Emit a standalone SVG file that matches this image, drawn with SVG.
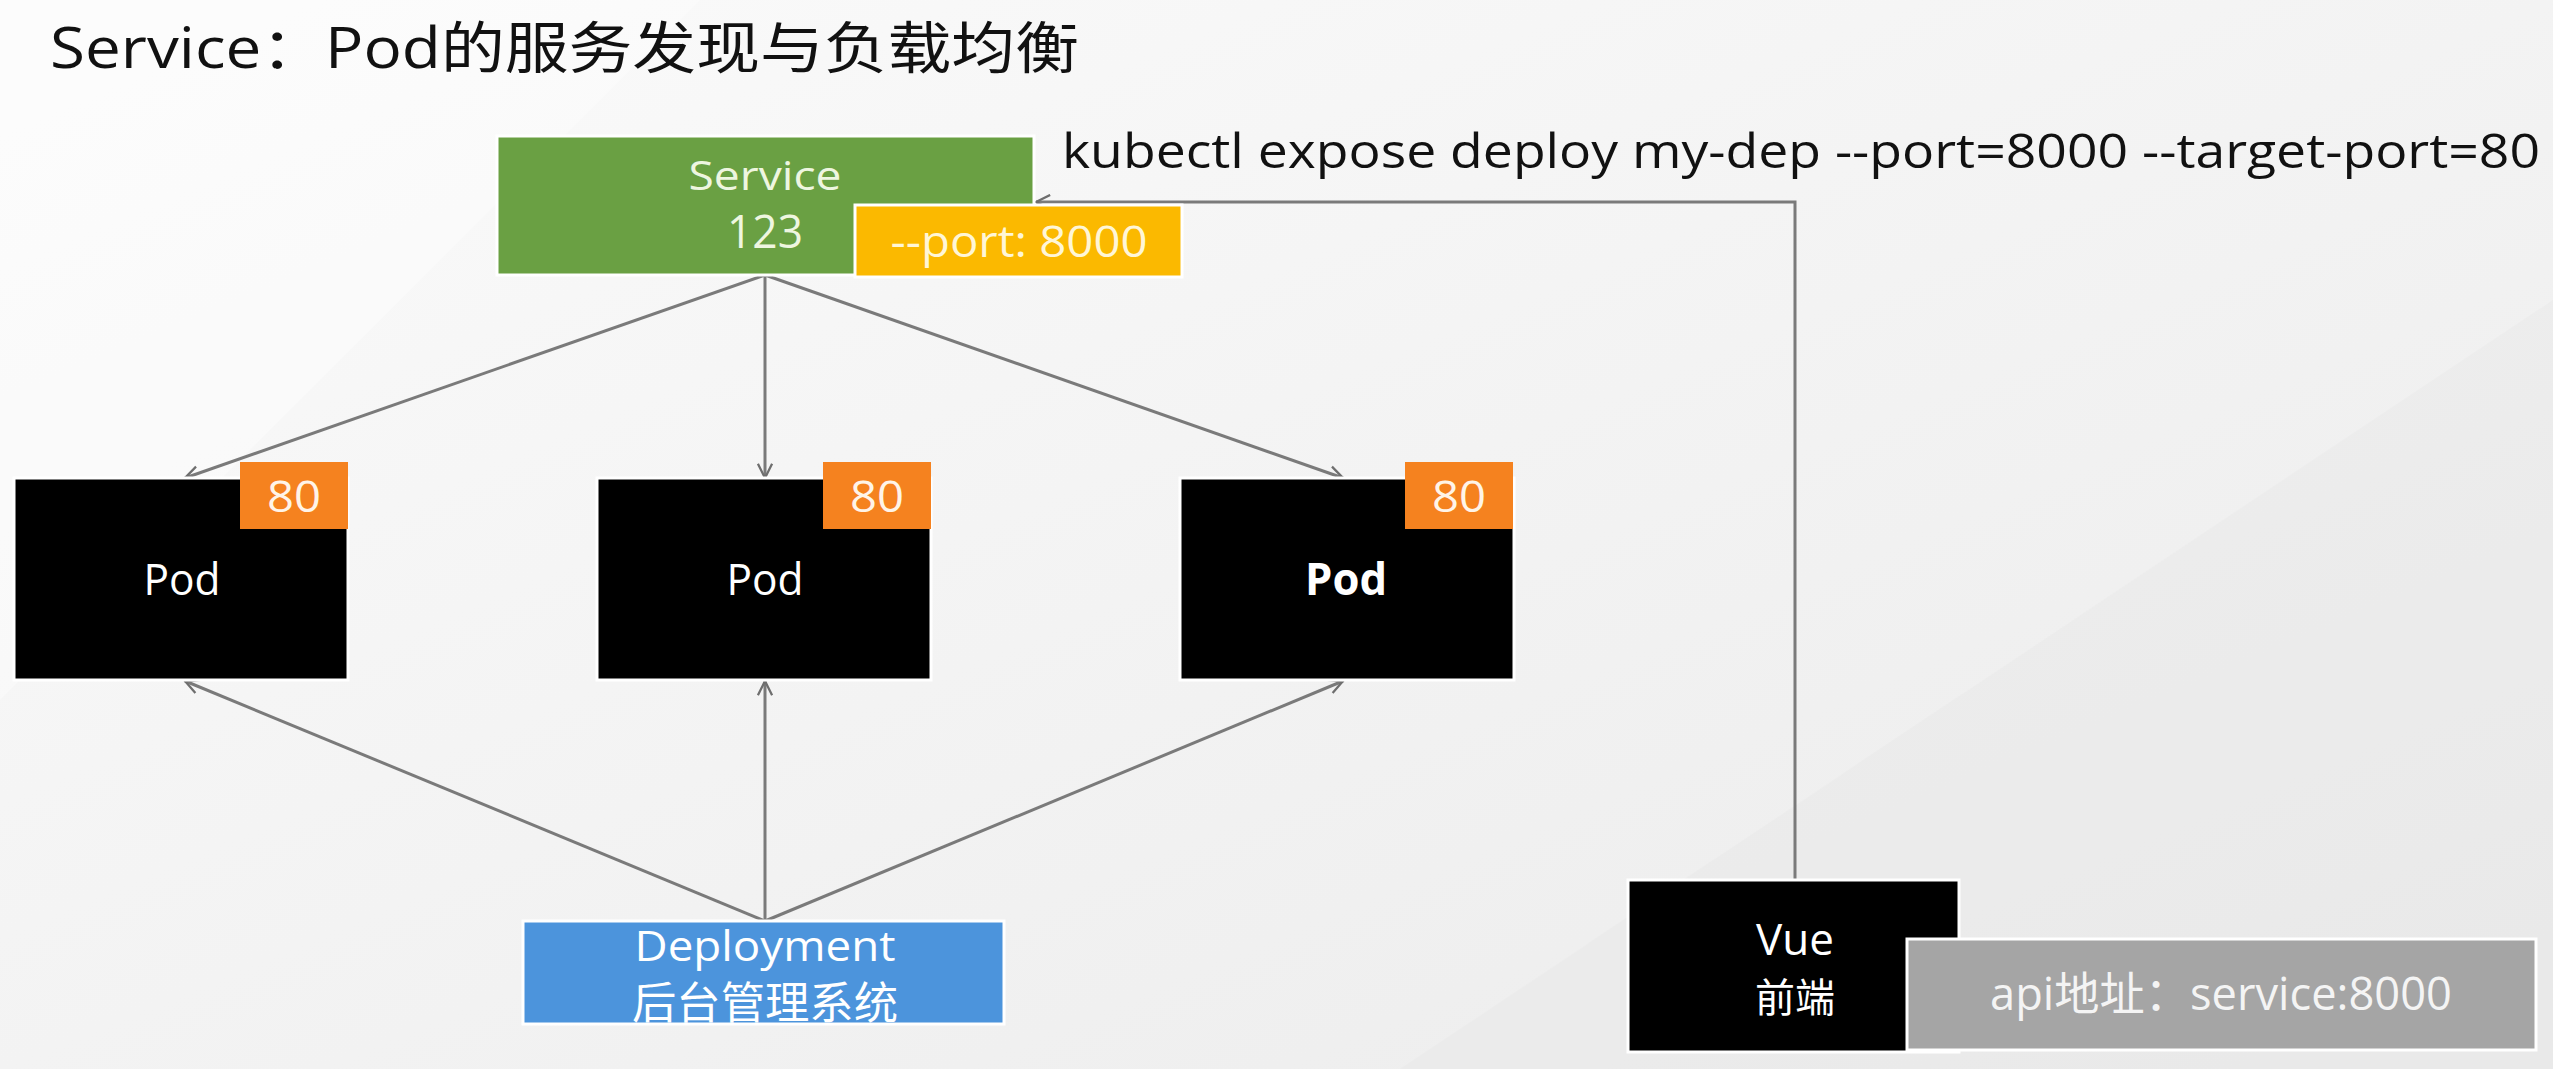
<svg xmlns="http://www.w3.org/2000/svg" width="2553" height="1069" viewBox="0 0 2553 1069">
  <defs>
    <linearGradient id="bg" x1="0" y1="0" x2="1" y2="1">
      <stop offset="0" stop-color="#fbfbfb"/>
      <stop offset="0.5" stop-color="#f3f3f3"/>
      <stop offset="1" stop-color="#ebebeb"/>
    </linearGradient>
    <marker id="arr" viewBox="0 0 12 12" markerWidth="17" markerHeight="17" markerUnits="userSpaceOnUse" refX="11" refY="6" orient="auto">
      <path d="M1,1 L11,6 L1,11" fill="none" stroke="#6e6e6e" stroke-width="1.6"/>
    </marker>
    <style>
      text { font-family: "Open Sans", "Noto Sans CJK SC", "Noto Sans", sans-serif; }
      .conn { fill: none; stroke: #7a7a7a; stroke-width: 3; }
      .box { stroke: #ffffff; stroke-width: 3; }
      .pod { fill: #000000; }
      .badge { fill: #f5821f; }
      .wt { fill: #ffffff; text-anchor: middle; }
      .badge-t { fill: #fff4e8; text-anchor: middle; font-size: 44px; }
      .pod-t { fill: #ffffff; text-anchor: middle; font-size: 44px; }
    </style>
  </defs>

  <rect x="0" y="0" width="2553" height="1069" fill="url(#bg)"/>
  <polygon points="0,0 700,0 0,700" fill="#ffffff" opacity="0.35"/>
  <polygon points="1400,1069 2553,300 2553,1069" fill="#e6e6e6" opacity="0.35"/>

  <g id="title">
    <text x="50" y="68" font-size="56" fill="#111111" textLength="1029" lengthAdjust="spacingAndGlyphs">Service：Pod的服务发现与负载均衡</text>
  </g>

  <g id="command">
    <text x="1062" y="168" font-size="48" fill="#111111" textLength="1478" lengthAdjust="spacingAndGlyphs">kubectl expose deploy my-dep --port=8000 --target-port=80</text>
  </g>

  <g id="connectors">
    <line class="conn" x1="765" y1="275" x2="185" y2="478" marker-end="url(#arr)"/>
    <line class="conn" x1="765" y1="275" x2="765" y2="478" marker-end="url(#arr)"/>
    <line class="conn" x1="765" y1="275" x2="1343" y2="478" marker-end="url(#arr)"/>
    <line class="conn" x1="765" y1="921" x2="185" y2="681" marker-end="url(#arr)"/>
    <line class="conn" x1="765" y1="921" x2="765" y2="681" marker-end="url(#arr)"/>
    <line class="conn" x1="765" y1="921" x2="1343" y2="681" marker-end="url(#arr)"/>
    <polyline class="conn" points="1795,880 1795,202 1036,202" marker-end="url(#arr)"/>
  </g>

  <g id="service">
    <rect class="box" x="497" y="136" width="537" height="139" fill="#6aa043"/>
    <text x="765" y="190" font-size="40" fill="#eef6e0" text-anchor="middle" textLength="153" lengthAdjust="spacingAndGlyphs">Service</text>
    <text x="765" y="248" font-size="46" fill="#eef6e0" text-anchor="middle" textLength="76" lengthAdjust="spacingAndGlyphs">123</text>
  </g>

  <g id="service-port">
    <rect class="box" x="855" y="205" width="327" height="72" fill="#fbb900"/>
    <text x="1019" y="257" font-size="44" fill="#fff6d6" text-anchor="middle" textLength="257" lengthAdjust="spacingAndGlyphs">--port: 8000</text>
  </g>

  <g id="pod1">
    <rect class="box pod" x="14" y="478" width="334" height="202"/>
    <rect class="badge" x="240" y="462" width="108" height="67"/>
    <text class="badge-t" x="294" y="512" textLength="54" lengthAdjust="spacingAndGlyphs">80</text>
    <text class="pod-t" x="182" y="595" textLength="77" lengthAdjust="spacingAndGlyphs">Pod</text>
  </g>

  <g id="pod2">
    <rect class="box pod" x="597" y="478" width="334" height="202"/>
    <rect class="badge" x="823" y="462" width="108" height="67"/>
    <text class="badge-t" x="877" y="512" textLength="54" lengthAdjust="spacingAndGlyphs">80</text>
    <text class="pod-t" x="765" y="595" textLength="77" lengthAdjust="spacingAndGlyphs">Pod</text>
  </g>

  <g id="pod3">
    <rect class="box pod" x="1180" y="478" width="334" height="202"/>
    <rect class="badge" x="1405" y="462" width="108" height="67"/>
    <text class="badge-t" x="1459" y="512" textLength="54" lengthAdjust="spacingAndGlyphs">80</text>
    <text class="pod-t" x="1346" y="595" font-weight="bold" textLength="82" lengthAdjust="spacingAndGlyphs">Pod</text>
  </g>

  <g id="deployment">
    <rect class="box" x="523" y="921" width="481" height="103" fill="#4c94dc"/>
    <text class="wt" x="765" y="961" font-size="42" textLength="261" lengthAdjust="spacingAndGlyphs" fill="#f2f8ff">Deployment</text>
    <text class="wt" x="765" y="1019" font-size="44" textLength="266" lengthAdjust="spacingAndGlyphs" fill="#f2f8ff">后台管理系统</text>
  </g>

  <g id="vue">
    <rect class="box" x="1628" y="880" width="331" height="172" fill="#000000"/>
    <text class="wt" x="1795" y="955" font-size="44">Vue</text>
    <text class="wt" x="1795" y="1012" font-size="40" fill="#eeeeee">前端</text>
  </g>

  <g id="api-address">
    <rect class="box" x="1907" y="939" width="629" height="111" fill="#a5a5a5"/>
    <text x="2221" y="1010" font-size="46" fill="#f4f4f4" text-anchor="middle" textLength="462" lengthAdjust="spacingAndGlyphs">api地址：service:8000</text>
  </g>
</svg>
